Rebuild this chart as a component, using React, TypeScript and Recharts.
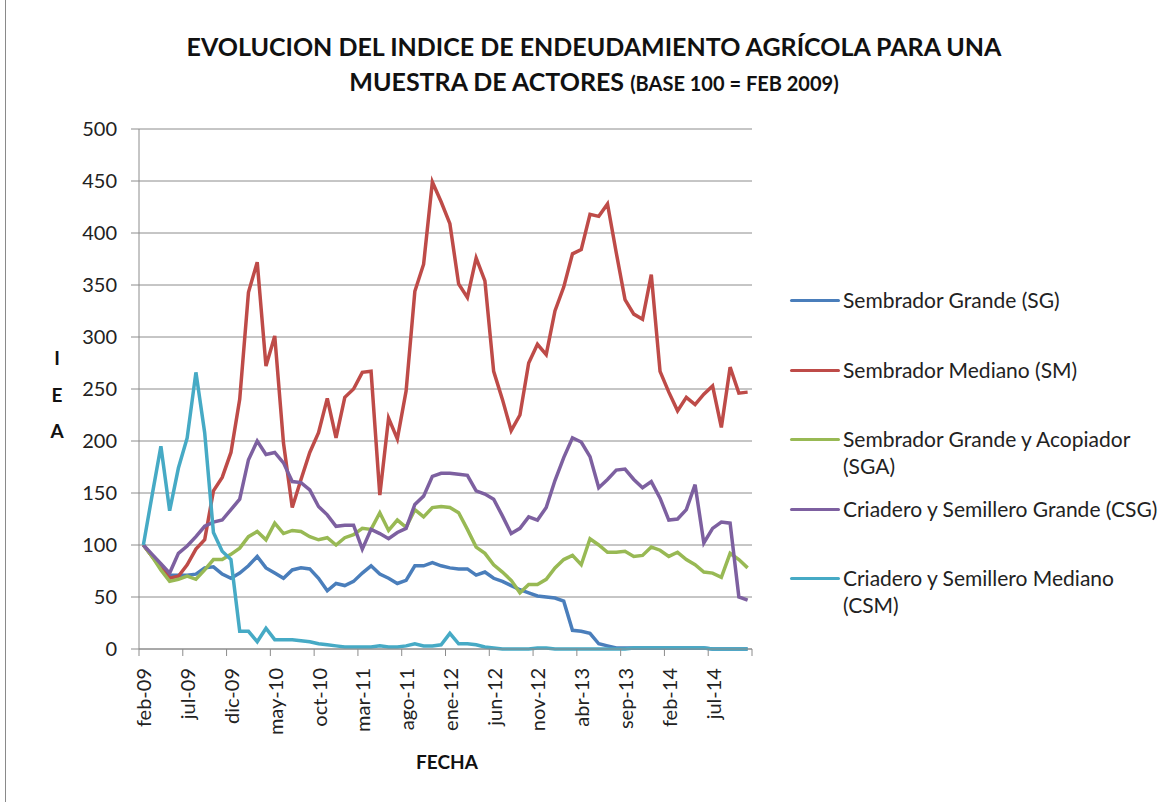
import React from "react";
import { LineChart, Line, XAxis, YAxis, CartesianGrid } from "recharts";

const months = [
  "feb-09", "mar-09", "abr-09", "may-09", "jun-09", "jul-09", "ago-09", "sep-09", "oct-09", "nov-09", "dic-09",
  "ene-10", "feb-10", "mar-10", "abr-10", "may-10", "jun-10", "jul-10", "ago-10", "sep-10", "oct-10", "nov-10", "dic-10",
  "ene-11", "feb-11", "mar-11", "abr-11", "may-11", "jun-11", "jul-11", "ago-11", "sep-11", "oct-11", "nov-11", "dic-11",
  "ene-12", "feb-12", "mar-12", "abr-12", "may-12", "jun-12", "jul-12", "ago-12", "sep-12", "oct-12", "nov-12", "dic-12",
  "ene-13", "feb-13", "mar-13", "abr-13", "may-13", "jun-13", "jul-13", "ago-13", "sep-13", "oct-13", "nov-13", "dic-13",
  "ene-14", "feb-14", "mar-14", "abr-14", "may-14", "jun-14", "jul-14", "ago-14", "sep-14", "oct-14", "nov-14",
];

// Sembrador Grande (SG)
const sg = [
  100, 89, 79, 71, 71, 71, 72, 78, 79, 72,
  68, 73, 80, 89, 78, 73, 68, 76, 78, 77,
  68, 56, 63, 61, 65, 73, 80, 72, 68, 63,
  66, 80, 80, 83, 80, 78, 77, 77, 71, 74,
  68, 65, 61, 57, 54, 51, 50, 49, 46, 18,
  17, 15, 5, 3, 1, 1, 1, 1, 1, 1,
  1, 1, 1, 1, 1, 0, 0, 0, 0, 0,
];

// Sembrador Mediano (SM)
const sm = [
  100, 89, 78, 68, 70, 81, 96, 105, 152, 165,
  189, 240, 343, 372, 272, 301, 198, 136, 163, 189,
  208, 241, 203, 242, 250, 266, 267, 148, 222, 202,
  248, 344, 370, 449, 430, 409, 351, 338, 376, 354,
  267, 240, 210, 225, 275, 293, 283, 325, 348, 380,
  384, 418, 416, 428, 381, 336, 322, 317, 360, 267,
  247, 229, 242, 235, 245, 253, 213, 271, 246, 247,
];

// Sembrador Grande y Acopiador (SGA)
const sga = [
  100, 89, 76, 65, 67, 70, 67, 76, 86, 86,
  91, 97, 108, 113, 105, 121, 111, 114, 113, 108,
  105, 107, 100, 107, 110, 116, 115, 131, 114, 124,
  117, 134, 127, 136, 137, 136, 131, 115, 98, 92,
  81, 74, 66, 54, 62, 62, 67, 78, 86, 90,
  81, 106, 100, 93, 93, 94, 89, 90, 98, 95,
  89, 93, 86, 81, 74, 73, 69, 92, 86, 78,
];

// Criadero y Semillero Grande (CSG)
const csg = [
  100, 91, 82, 73, 92, 99, 108, 118, 122, 124,
  134, 144, 182, 200, 187, 189, 179, 161, 160, 153,
  137, 129, 118, 119, 119, 96, 115, 111, 106, 112,
  116, 139, 147, 166, 169, 169, 168, 167, 152, 149,
  144, 128, 111, 116, 127, 124, 136, 162, 184, 203,
  199, 185, 155, 163, 172, 173, 163, 155, 161, 145,
  124, 125, 134, 158, 102, 116, 122, 121, 50, 47,
];

// Criadero y Semillero Mediano (CSM)
const csm = [
  100, 148, 195, 133, 174, 203, 266, 208, 112, 94,
  86, 17, 17, 7, 20, 9, 9, 9, 8, 7,
  5, 4, 3, 2, 2, 2, 2, 3, 2, 2,
  3, 5, 3, 3, 4, 15, 5, 5, 4, 2,
  1, 0, 0, 0, 0, 1, 1, 0, 0, 0,
  0, 0, 0, 0, 0, 0, 1, 1, 1, 1,
  1, 1, 1, 1, 1, 0, 0, 0, 0, 0,
];

const yTicks = [0, 50, 100, 150, 200, 250, 300, 350, 400, 450, 500];
const labelTicks = [0, 5, 10, 15, 20, 25, 30, 35, 40, 45, 50, 55, 60, 65];
const markTicks = [-0.5, 4.5, 9.5, 14.5, 19.5, 24.5, 29.5, 34.5, 39.5, 44.5, 49.5, 54.5, 59.5, 64.5, 69.5];

const series = [
  { key: "sg", name: "Sembrador Grande (SG)", color: "#4A7EBB", legend: ["Sembrador Grande (SG)"] },
  { key: "sm", name: "Sembrador Mediano (SM)", color: "#BE4B48", legend: ["Sembrador Mediano (SM)"] },
  { key: "sga", name: "Sembrador Grande y Acopiador (SGA)", color: "#98B954", legend: ["Sembrador Grande y Acopiador", "(SGA)"] },
  { key: "csg", name: "Criadero y Semillero Grande (CSG)", color: "#7D60A0", legend: ["Criadero y Semillero Grande (CSG)"] },
  { key: "csm", name: "Criadero y Semillero Mediano (CSM)", color: "#46AAC5", legend: ["Criadero y Semillero Mediano", "(CSM)"] },
];

const data = months.map((m, i) => ({
  idx: i,
  month: m,
  sg: sg[i],
  sm: sm[i],
  sga: sga[i],
  csg: csg[i],
  csm: csm[i],
}));

const FONT = "Lato, 'Open Sans', sans-serif";

function MonthTick({ x, y, payload }: { x?: number; y?: number; payload?: { value: number } }) {
  const label = months[payload?.value ?? 0];
  const ty = (y ?? 0) + 1;
  return (
    <text
      x={x}
      y={ty}
      transform={`rotate(-90 ${x} ${ty})`}
      textAnchor="end"
      dominantBaseline="central"
      fontSize={20}
      fontFamily={FONT}
      fill="#222"
    >
      {label}
    </text>
  );
}

function SideLegend() {
  return (
    <div style={{ position: "absolute", left: 790, top: 286, width: 380, height: 340, fontFamily: FONT }}>
      {series.map((s, i) => (
        <div
          key={s.key}
          style={{ position: "absolute", left: 0, top: i * 69.5, display: "flex", alignItems: "flex-start" }}
        >
          <div style={{ width: 50, height: 3, background: s.color, marginTop: 13, borderRadius: 2 }} />
          <div style={{ marginLeft: 3, fontSize: 21, lineHeight: "27px", color: "#222", whiteSpace: "nowrap" }}>
            {s.legend.map((l) => (
              <div key={l}>{l}</div>
            ))}
          </div>
        </div>
      ))}
    </div>
  );
}

export default function App() {
  return (
    <div
      style={{
        position: "absolute",
        left: 0,
        top: 0,
        width: 1171,
        height: 802,
        background: "#fff",
        fontFamily: FONT,
        overflow: "hidden",
      }}
    >
      <div style={{ position: "absolute", left: 5, top: 0, width: 1, height: 802, background: "#8a8a8a" }} />
      <div
        style={{
          position: "absolute",
          left: 0,
          width: 1188,
          top: 29,
          textAlign: "center",
          fontWeight: 700,
          fontSize: 25,
          lineHeight: "35px",
          color: "#111",
        }}
      >
        <div>EVOLUCION DEL INDICE DE ENDEUDAMIENTO AGRÍCOLA PARA UNA</div>
        <div>
          MUESTRA DE ACTORES <span style={{ fontSize: 20 }}>(BASE 100 = FEB 2009)</span>
        </div>
      </div>
      <div
        style={{
          position: "absolute",
          left: 47,
          top: 340,
          width: 20,
          textAlign: "center",
          fontWeight: 700,
          fontSize: 19,
          lineHeight: "36.5px",
          color: "#111",
        }}
      >
        <div>I</div>
        <div>E</div>
        <div>A</div>
      </div>
      <div
        style={{
          position: "absolute",
          left: 397,
          width: 100,
          top: 750,
          textAlign: "center",
          fontWeight: 700,
          fontSize: 19,
          color: "#111",
        }}
      >
        FECHA
      </div>
      <SideLegend />
      <div style={{ position: "absolute", left: 0, top: 0 }}>
        <LineChart width={1171} height={802} data={data} margin={{ top: 129, right: 419, bottom: 63, left: 0 }}>
          <CartesianGrid xAxisId="b" vertical={false} stroke="#8c8c8c" strokeWidth={1} />
          <XAxis
            xAxisId="a"
            dataKey="idx"
            type="number"
            domain={[-0.5, 69.5]}
            ticks={markTicks}
            tickFormatter={() => ""}
            tickSize={7}
            height={10}
            stroke="#8c8c8c"
            interval={0}
          />
          <XAxis
            xAxisId="b"
            dataKey="idx"
            type="number"
            domain={[-0.5, 69.5]}
            ticks={labelTicks}
            tick={<MonthTick />}
            axisLine={false}
            tickLine={false}
            height={80}
            interval={0}
          />
          <YAxis
            domain={[0, 500]}
            ticks={yTicks}
            width={139}
            tickSize={8}
            tickMargin={14}
            stroke="#8c8c8c"
            tick={{ fill: "#222", fontSize: 20, fontFamily: FONT }}
            interval={0}
          />
          {series.map((s) => (
            <Line
              key={s.key}
              xAxisId="b"
              dataKey={s.key}
              name={s.name}
              stroke={s.color}
              strokeWidth={3.5}
              dot={false}
              type="linear"
              isAnimationActive={false}
            />
          ))}
        </LineChart>
      </div>
    </div>
  );
}
